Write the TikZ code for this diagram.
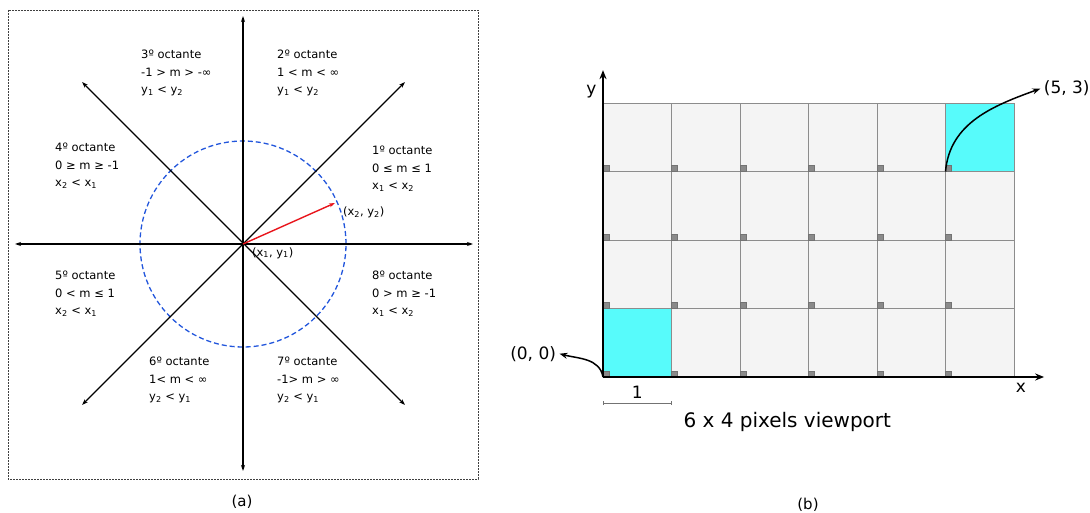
\documentclass[tikz,border=0pt]{standalone}
\usepackage{fontspec}
\setmainfont{DejaVu Sans}
\usepackage{tikz}
\usetikzlibrary{arrows.meta, positioning}
\definecolor{octblue}{HTML}{2256DC}
\definecolor{vecred}{HTML}{E8141B}
\definecolor{pxcyan}{HTML}{57FBFB}
\definecolor{pxgray}{HTML}{F4F4F4}
\definecolor{pxline}{HTML}{8C8C8C}
\definecolor{pxdark}{HTML}{8A8A8A}

\begin{document}
\begin{tikzpicture}[x=1pt, y=-1pt,
    axis/.style={{Stealth[length=6pt,width=4pt]}-{Stealth[length=6pt,width=4pt]}, line width=1.3pt},
    octlbl/.style={anchor=north west, inner sep=0pt, align=left,
                   font=\fontsize{11.5}{17.5}\selectfont},
    ptlbl/.style={anchor=west, inner sep=0pt, font=\fontsize{11.5}{14}\selectfont},
    circ/.style={octblue, line width=1.3pt, dash pattern=on 5pt off 3pt},
    vec/.style={-{Stealth[length=6pt,width=4pt]}, vecred, line width=1.4pt},
    frame/.style={dash pattern=on 2pt off 1pt, line width=0.6pt, black!75},
    caption/.style={font=\fontsize{15}{18}\selectfont},
    cell/.style={fill=pxgray, draw=pxline, line width=0.8pt},
    hit/.style={fill=pxcyan, draw=pxline, line width=0.8pt},
    pxdot/.style={fill=pxdark, draw=black!55, line width=0.4pt},
    bigaxis/.style={-{Stealth[length=9pt,width=7pt]}, line width=1.8pt},
    callout/.style={-{Stealth[length=8pt,width=6pt]}, line width=1.5pt},
    biglbl/.style={font=\fontsize{17}{20}\selectfont},
    scalebar/.style={{Bar[width=4pt]}-{Bar[width=4pt]}, black!55, line width=0.7pt},
]
    \useasboundingbox (0,0) rectangle (1090,513);

    % (a) octants
    \coordinate (O) at (243,244);
    \coordinate (aN) at (243,16);
    \coordinate (aS) at (243,471);
    \coordinate (aW) at (15,244);
    \coordinate (aE) at (473,244);
    \coordinate (aNE) at (405,82);
    \coordinate (aNW) at (82,82);
    \coordinate (aSW) at (82,405);
    \coordinate (aSE) at (405,405);
    \coordinate (P2) at (335,203);

    \draw[frame] (8,10) rectangle (478,479);
    \draw[circ] (O) circle (103pt);
    \draw[axis] (aW) -- (aE);
    \draw[axis] (aS) -- (aN);
    \draw[axis] (aSW) -- (aNE);
    \draw[axis] (aNW) -- (aSE);
    \draw[vec] (O) -- (P2);

    \node[ptlbl] (p2lbl) at (343,212) {(x\textsubscript{2}, y\textsubscript{2})};
    \node[ptlbl] (p1lbl) at (252,253) {(x\textsubscript{1}, y\textsubscript{1})};

    \node[octlbl] (oct1) at (372,146) {1º octante\\0 ≤ m ≤ 1\\x\textsubscript{1} < x\textsubscript{2}};
    \node[octlbl] (oct2) at (277,50) {2º octante\\1 < m < ∞\\y\textsubscript{1} < y\textsubscript{2}};
    \node[octlbl] (oct3) at (141,50) {3º octante\\-1 > m > -∞\\y\textsubscript{1} < y\textsubscript{2}};
    \node[octlbl] (oct4) at (55,143) {4º octante\\0 ≥ m ≥ -1\\x\textsubscript{2} < x\textsubscript{1}};
    \node[octlbl] (oct5) at (55,271) {5º octante\\0 < m ≤ 1\\x\textsubscript{2} < x\textsubscript{1}};
    \node[octlbl] (oct6) at (149,357) {6º octante\\1< m < ∞\\y\textsubscript{2} < y\textsubscript{1}};
    \node[octlbl] (oct7) at (277,357) {7º octante\\-1> m > ∞\\y\textsubscript{2} < y\textsubscript{1}};
    \node[octlbl] (oct8) at (372,271) {8º octante\\0 > m ≥ -1\\x\textsubscript{1} < x\textsubscript{2}};

    \node[caption] (capa) at (242,502) {(a)};

    % (b) viewport grid
    \begin{scope}[shift={(603,377)}, x=68.5pt, y=68.5pt]
        \foreach \i in {0,...,5}
            \foreach \j in {0,...,3}
                \filldraw[cell] (\i,\j) rectangle ++(1,1);
        \filldraw[hit] (0,0) rectangle ++(1,1);
        \filldraw[hit] (5,3) rectangle ++(1,1);
        \foreach \i in {0,...,5}
            \foreach \j in {0,...,3}
                \filldraw[pxdot] (\i,\j) rectangle ++(0.09,0.09);

        \coordinate (b00) at (0,0);
        \coordinate (b53) at (5,3);
        \coordinate (bX) at (6.44,0);
        \coordinate (bY) at (0,4.48);
        \draw[bigaxis] (b00) -- (bX);
        \draw[bigaxis] (b00) -- (bY);

        \node[biglbl] (ylbl) at (-0.17,4.17) {y};
        \node[biglbl] (xlbl) at (6.1,-0.16) {x};
        \node[biglbl] (onelbl) at (0.5,-0.22) {1};
        \draw[scalebar] (0,-0.38) -- (1,-0.38);
        \node[font=\fontsize{20}{24}\selectfont] (vplbl) at (2.69,-0.66) {6 x 4 pixels viewport};

        \node[biglbl] (l00) at (-1.02,0.34) {(0, 0)};
        \node[biglbl] (l53) at (6.77,4.21) {(5, 3)};
        \draw[callout] (b00) to[out=100, in=-15] (l00.east);
        \draw[callout] (b53) to[out=85, in=200] (l53.west);
    \end{scope}

    \node[caption] (capb) at (808,505) {(b)};
\end{tikzpicture}
\end{document}
